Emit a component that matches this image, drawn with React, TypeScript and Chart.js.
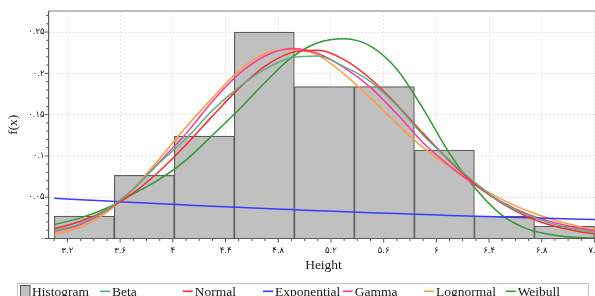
import React, { useEffect, useRef } from 'react';
import { Chart, registerables } from 'chart.js';

Chart.register(...registerables);

// ---- data ----
const binEdges = [3.1, 3.5556, 4.0111, 4.4667, 4.9222, 5.3778, 5.8333, 6.2889, 6.7444, 7.2];
const binCenters = [3.3278, 3.7833, 4.2389, 4.6944, 5.15, 5.6056, 6.0611, 6.5167, 6.9722];
const binHeights = [0.027, 0.0765, 0.124, 0.25, 0.184, 0.184, 0.107, 0.027, 0.015];

const curveX = [3.1, 3.3, 3.5, 3.7, 3.9, 4.1, 4.3, 4.5, 4.7, 4.9, 5.1, 5.3, 5.5, 5.7, 5.9, 6.1, 6.3, 6.5, 6.7, 6.9, 7.1, 7.25];
const betaY = [0.009, 0.018, 0.035, 0.06, 0.092, 0.121, 0.155, 0.183, 0.205, 0.219, 0.221, 0.208, 0.19, 0.161, 0.125, 0.095, 0.067, 0.043, 0.028, 0.017, 0.01, 0.006];
const normalY = [0.0118, 0.0208, 0.035, 0.0552, 0.0818, 0.1136, 0.1482, 0.1815, 0.2086, 0.2251, 0.228, 0.2167, 0.1934, 0.162, 0.1273, 0.094, 0.0651, 0.0423, 0.0258, 0.0148, 0.008, 0.0048];
const exponentialY = [0.0488, 0.047, 0.0453, 0.0437, 0.0421, 0.0406, 0.0391, 0.0377, 0.0363, 0.035, 0.0337, 0.0325, 0.0313, 0.0302, 0.0291, 0.028, 0.027, 0.026, 0.0251, 0.0242, 0.0233, 0.0227];
const gammaY = [0.0085, 0.017, 0.034, 0.06, 0.093, 0.127, 0.166, 0.199, 0.221, 0.23, 0.224, 0.207, 0.183, 0.151, 0.116, 0.088, 0.064, 0.044, 0.029, 0.019, 0.012, 0.008];
const lognormalY = [0.005, 0.014, 0.032, 0.06, 0.097, 0.135, 0.17, 0.203, 0.224, 0.229, 0.222, 0.199, 0.17, 0.139, 0.11, 0.087, 0.065, 0.047, 0.033, 0.022, 0.014, 0.01];
const weibullY = [0.017, 0.025, 0.037, 0.054, 0.072, 0.095, 0.125, 0.156, 0.189, 0.219, 0.237, 0.242, 0.233, 0.205, 0.157, 0.103, 0.06, 0.028, 0.011, 0.004, 0.001, 0.0005];

const xTickValues = [3.2, 3.6, 4, 4.4, 4.8, 5.2, 5.6, 6, 6.4, 6.8, 7.2];
const yTickValues = [0, 0.05, 0.1, 0.15, 0.2, 0.25];

const seriesNames = ['Beta', 'Normal', 'Exponential', 'Gamma', 'Lognormal', 'Weibull'];
const seriesColors = ['#5cae84', '#ff2a2a', '#3a3aff', '#ff3aa0', '#ff9c40', '#2f9a2f'];
const seriesValues = [betaY, normalY, exponentialY, gammaY, lognormalY, weibullY];
const histogramLabel = 'Histogram';
const xTitle = 'Height';
const yTitle = 'f(x)';

const X_MIN = 3.057;
const X_MAX = 7.23;

const FA_DIGITS = '۰۱۲۳۴۵۶۷۸۹';
const toFa = (s: string) => s.replace(/[0-9]/g, (d) => FA_DIGITS[+d]);

const SERIF = '"Liberation Serif", "Times New Roman", serif';

const framePlugin = {
  id: 'frame',
  afterDatasetsDraw(chart: any) {
    const { ctx, chartArea: a, scales } = chart;
    const x = scales.x;
    const y = scales.y;
    ctx.save();
    ctx.strokeStyle = '#a9a9a9';
    ctx.lineWidth = 1.5;
    ctx.beginPath();
    ctx.moveTo(a.left, a.top);
    ctx.lineTo(a.right, a.top);
    ctx.lineTo(a.right, a.bottom);
    ctx.stroke();
    ctx.strokeStyle = '#5a5a5a';
    ctx.lineWidth = 1.2;
    ctx.beginPath();
    ctx.moveTo(a.left, a.top);
    ctx.lineTo(a.left, a.bottom);
    ctx.lineTo(a.right, a.bottom);
    ctx.stroke();
    ctx.lineWidth = 1;
    ctx.beginPath();
    for (let i = 0; i <= 45; i++) {
      const v = 3.1 + i * 0.1;
      const px = x.getPixelForValue(v);
      if (px < a.left || px > a.right) continue;
      const major = xTickValues.some((t) => Math.abs(t - v) < 1e-6);
      ctx.moveTo(px, a.bottom);
      ctx.lineTo(px, a.bottom + (major ? 4 : 2.5));
    }
    for (let i = 0; i <= 27; i++) {
      const v = i * 0.01;
      const py = y.getPixelForValue(v);
      const major = yTickValues.some((t) => Math.abs(t - v) < 1e-6);
      ctx.moveTo(a.left, py);
      ctx.lineTo(a.left - (major ? 4 : 2.5), py);
    }
    ctx.stroke();
    ctx.restore();
  },
  afterDraw(chart: any) {
    const { ctx } = chart;
    ctx.save();
    ctx.strokeStyle = '#c4c4c4';
    ctx.lineWidth = 1;
    ctx.strokeRect(17.5, 283.5, 571, 22);
    ctx.font = '13.5px ' + SERIF;
    ctx.textBaseline = 'alphabetic';
    ctx.fillStyle = '#c0c0c0';
    ctx.fillRect(20.5, 285.5, 9.5, 11);
    ctx.strokeStyle = '#555';
    ctx.strokeRect(20.5, 285.5, 9.5, 11);
    ctx.fillStyle = '#1a1a1a';
    ctx.fillText(histogramLabel, 32, 295.5);
    const lineX = [100, 182.7, 263, 342.7, 424, 505.7];
    seriesNames.forEach((name, i) => {
      ctx.strokeStyle = seriesColors[i];
      ctx.lineWidth = 1.6;
      ctx.beginPath();
      ctx.moveTo(lineX[i], 291.3);
      ctx.lineTo(lineX[i] + 10, 291.3);
      ctx.stroke();
      ctx.fillText(name, lineX[i] + 12, 295.5);
    });
    ctx.restore();
  },
};

export default function App() {
  const ref = useRef<HTMLCanvasElement>(null);
  useEffect(() => {
    if (!ref.current) return;
    const lineSets = seriesNames.map((name, i) => ({
      type: 'line' as const,
      label: name,
      xAxisID: 'x',
      data: curveX.map((xv, j) => ({ x: xv, y: seriesValues[i][j] })),
      borderColor: seriesColors[i],
      backgroundColor: seriesColors[i],
      borderWidth: 1.5,
      pointRadius: 0,
      cubicInterpolationMode: 'monotone' as const,
      fill: false,
      order: 1,
    }));
    const chart = new Chart(ref.current, {
      type: 'bar',
      data: {
        datasets: [
          {
            type: 'bar',
            label: histogramLabel,
            xAxisID: 'xb',
            data: binCenters.map((c, i) => ({ x: c, y: binHeights[i] })),
            backgroundColor: '#c0c0c0',
            borderColor: '#5e5e5e',
            borderWidth: 1.2,
            borderSkipped: 'bottom',
            grouped: false,
            barPercentage: 1,
            categoryPercentage: 1,
            order: 10,
          } as any,
          ...lineSets,
        ],
      },
      options: {
        responsive: false,
        animation: false,
        devicePixelRatio: 1,
        layout: { padding: { top: 11, left: 0, right: 41.6, bottom: 38.5 } },
        plugins: { legend: { display: false }, tooltip: { enabled: false } },
        scales: {
          xb: {
            type: 'linear',
            display: false,
            min: X_MIN,
            max: X_MAX,
            offset: false,
            afterBuildTicks: (s: any) => {
              s.ticks = binEdges.map((v) => ({ value: v }));
            },
          },
          x: {
            type: 'linear',
            min: X_MIN,
            max: X_MAX,
            offset: false,
            afterBuildTicks: (s: any) => {
              s.ticks = xTickValues.map((v) => ({ value: v }));
            },
            afterFit: (s: any) => {
              s.height = 35;
            },
            grid: { offset: false, color: '#e4e4e4', lineWidth: 1, drawTicks: false },
            border: { display: false, dash: [2, 2] },
            ticks: {
              autoSkip: false,
              maxRotation: 0,
              padding: 7,
              color: '#111',
              font: { family: '"DejaVu Sans"', size: 8.5 },
              callback: (v: any) => toFa(String(v)),
            },
            title: {
              display: true,
              text: xTitle,
              color: '#1a1a1a',
              font: { family: SERIF, size: 13.5 },
              padding: { top: 0, bottom: 0 },
            },
          },
          y: {
            type: 'linear',
            min: 0,
            max: 0.2755,
            afterBuildTicks: (s: any) => {
              s.ticks = yTickValues.map((v) => ({ value: v }));
            },
            afterFit: (s: any) => {
              s.width = 48.6;
            },
            grid: { color: '#e4e4e4', lineWidth: 1, drawTicks: false },
            border: { display: false, dash: [2, 2] },
            ticks: {
              padding: 4,
              color: '#111',
              font: { family: '"DejaVu Sans"', size: 8.5 },
              callback: (v: any) => toFa(String(v)),
            },
            title: {
              display: true,
              text: yTitle,
              color: '#1a1a1a',
              font: { family: SERIF, size: 13.5 },
              padding: { top: 5.6, bottom: 0 },
            },
          },
        },
      },
      plugins: [framePlugin],
    });
    return () => chart.destroy();
  }, []);
  return (
    <div style={{ position: 'fixed', left: 0, top: 0, width: 595, height: 296, overflow: 'hidden', background: '#fff' }}>
      <canvas ref={ref} width={640} height={312} style={{ display: 'block', width: 640, height: 312 }} />
    </div>
  );
}
